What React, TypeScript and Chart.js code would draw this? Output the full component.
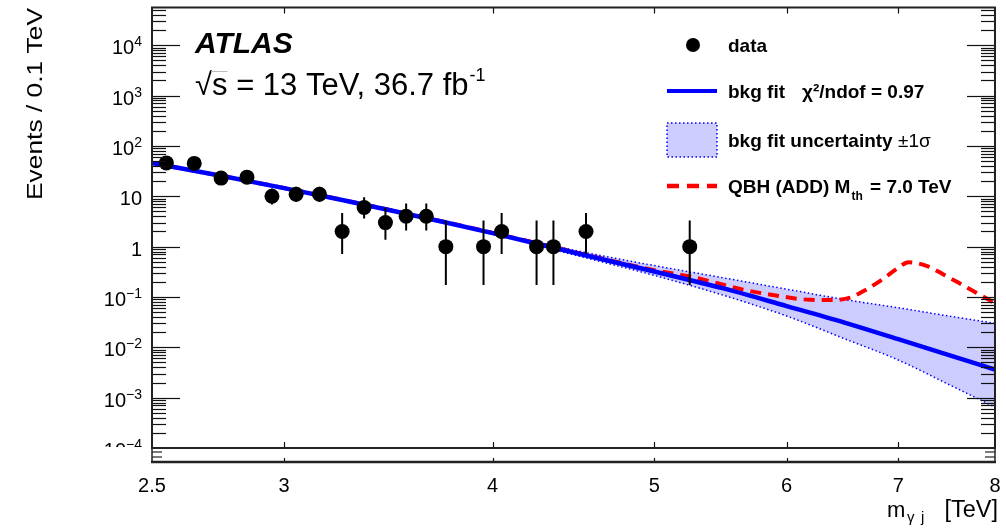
import React, { useEffect, useRef } from 'react';
import { Chart, registerables } from 'chart.js';

Chart.register(...registerables);

const W = 1006;
const H = 531;
const FONT = '"Liberation Sans", Arial, Helvetica, sans-serif';

// ---- data points (bin centres in TeV, events per 0.1 TeV) ----
const massBins = [2.55, 2.65, 2.75, 2.85, 2.95, 3.05, 3.15, 3.25, 3.35, 3.45, 3.55, 3.65, 3.75, 3.95, 4.05, 4.25, 4.35, 4.55, 5.25];
const dataCounts = [46, 45, 23, 24, 10, 11, 11, 2, 6, 3, 4, 4, 1, 1, 2, 1, 1, 2, 1];
const errLow = [39.2, 38.3, 18.2, 19.1, 6.9, 7.7, 7.7, 0.71, 3.62, 1.37, 2.09, 2.09, 0.173, 0.173, 0.71, 0.173, 0.173, 0.71, 0.173];
const errHigh = [53.8, 52.8, 28.9, 30.0, 14.3, 15.4, 15.4, 4.64, 9.58, 5.92, 7.16, 7.16, 3.3, 3.3, 4.64, 3.3, 3.3, 4.64, 3.3];

// ---- background fit ----
const fitMass = [2.5, 2.75, 3.0, 3.25, 3.5, 3.75, 4.0, 4.5, 5.0, 5.5, 6.0, 6.5, 7.0, 7.5, 8.0];
const fitValues = [45.7, 25.5, 14.5, 8.45, 5.0, 3.02, 1.85, 0.73, 0.32, 0.148, 0.066, 0.031, 0.0145, 0.0071, 0.0036];

// ---- fit uncertainty band ----
const bandMass = [3.5, 3.75, 4.0, 4.5, 5.0, 5.5, 6.0, 6.5, 7.0, 7.5, 8.0];
const bandUpper = [5.05, 3.06, 1.95, 0.82, 0.42, 0.24, 0.143, 0.089, 0.061, 0.042, 0.03];
const bandLower = [4.95, 2.98, 1.76, 0.655, 0.268, 0.108, 0.042, 0.0148, 0.0056, 0.00185, 0.00065];

// ---- QBH signal + background ----
const qbhMass = [2.5, 3.0, 3.5, 4.0, 4.5, 5.0, 5.25, 5.4, 5.65, 5.9, 6.2, 6.4, 6.55, 6.7, 6.85, 7.0, 7.1, 7.3, 7.45, 7.6, 7.8, 8.0];
const qbhValues = [46, 14.6, 5.05, 1.88, 0.75, 0.34, 0.255, 0.205, 0.14, 0.108, 0.088, 0.087, 0.097, 0.141, 0.225, 0.38, 0.49, 0.4, 0.28, 0.195, 0.12, 0.075];

// ---- axes ----
const yMajorTicks = [1e-4, 1e-3, 1e-2, 1e-1, 1, 10, 1e2, 1e3, 1e4];
const yTickBase = ['10', '10', '10', '10', '1', '10', '10', '10', '10'];
const yTickExp = ['\u22124', '\u22123', '\u22122', '\u22121', '', '', '2', '3', '4'];
const xTicks = [2.5, 3, 4, 5, 6, 7, 8];
const xTickLabels = ['2.5', '3', '4', '5', '6', '7', '8'];
const xMin = 2.5;
const xMax = 8;
const yMin = 1e-4;
const yMax = 56234;

const legendLabels = ['data', 'bkg fit', 'bkg fit uncertainty', 'QBH (ADD) M'];

const toXY = (xs: number[], ys: number[]) => xs.map((x, i) => ({ x, y: ys[i] }));

const DATA_INDEX = 0;

const rootPlugin = {
  id: 'rootStyle',
  afterDatasetDraw(chart: any, args: any) {
    if (args.index !== DATA_INDEX) return;
    const { ctx, chartArea } = chart;
    const xs = chart.scales.x;
    const ys = chart.scales.y;
    ctx.save();
    ctx.beginPath();
    ctx.rect(chartArea.left, chartArea.top, chartArea.right - chartArea.left, chartArea.bottom - chartArea.top);
    ctx.clip();
    ctx.strokeStyle = '#000';
    ctx.lineWidth = 2;
    massBins.forEach((m, i) => {
      const px = xs.getPixelForValue(m);
      ctx.beginPath();
      ctx.moveTo(px, ys.getPixelForValue(errLow[i]));
      ctx.lineTo(px, ys.getPixelForValue(errHigh[i]));
      ctx.stroke();
    });
    ctx.restore();
  },
  afterDraw(chart: any) {
    const { ctx, chartArea } = chart;
    const xs = chart.scales.x;
    const ys = chart.scales.y;
    const L = chartArea.left;
    const R = chartArea.right;
    const T = chartArea.top;
    const B = chartArea.bottom;
    const stripBottom = B + 14;

    ctx.save();
    const line = (x1: number, y1: number, x2: number, y2: number) => {
      ctx.beginPath();
      ctx.moveTo(x1, y1);
      ctx.lineTo(x2, y2);
      ctx.stroke();
    };
    // ---------- ticks on y (both sides) ----------
    ctx.strokeStyle = '#111';
    ctx.lineWidth = 1.2;
    for (let e = -4; e <= 4; e++) {
      for (let k = 1; k <= 9; k++) {
        const v = k * Math.pow(10, e);
        if (v < yMin || v > yMax) continue;
        const py = Math.round(ys.getPixelForValue(v)) + 0.5;
        const len = k === 1 ? 28 : 14;
        if (py > B - 0.5 || py < T + 0.5) continue;
        line(L, py, L + len, py);
        line(R, py, R - len, py);
      }
    }
    // ---------- ticks on x (top & bottom) ----------
    xTicks.forEach((t) => {
      if (t <= xMin || t >= xMax) return;
      const px = Math.round(xs.getPixelForValue(t)) + 0.5;
      line(px, B, px, B - 6);
      line(px, T, px, T + 6);
      line(px, stripBottom, px, stripBottom - 4);
    });

    // ---------- frame ----------
    ctx.strokeStyle = '#222';
    ctx.lineWidth = 2;
    ctx.strokeRect(L, T, R - L, B - T);
    // lower (ratio) strip
    ctx.lineWidth = 1.5;
    line(L, B, L, stripBottom);
    line(R, B, R, stripBottom);
    ctx.lineWidth = 2.5;
    line(L - 1, stripBottom, R + 1, stripBottom);
    ctx.lineWidth = 1.2;
    [B + 4, B + 9].forEach((yy) => {
      line(L, yy, L + 10, yy);
      line(R, yy, R - 10, yy);
    });

    // ---------- y tick labels ----------
    ctx.save();
    ctx.beginPath();
    ctx.rect(0, 0, W, B - 1);
    ctx.clip();
    ctx.fillStyle = '#000';
    ctx.textBaseline = 'alphabetic';
    ctx.textAlign = 'right';
    yMajorTicks.forEach((v, i) => {
      const py = ys.getPixelForValue(v);
      const labelRight = 142;
      ctx.font = `14px ${FONT}`;
      const expW = yTickExp[i] ? ctx.measureText(yTickExp[i]).width : 0;
      if (yTickExp[i]) ctx.fillText(yTickExp[i], labelRight, py + 1);
      ctx.font = `20px ${FONT}`;
      ctx.fillText(yTickBase[i], labelRight - expW, py + 9);
    });
    ctx.restore();

    // ---------- x tick labels ----------
    ctx.fillStyle = '#000';
    ctx.font = `20px ${FONT}`;
    ctx.textAlign = 'center';
    ctx.textBaseline = 'alphabetic';
    xTicks.forEach((t, i) => {
      const px = xs.getPixelForValue(t);
      ctx.fillText(xTickLabels[i], px, 492);
    });

    // ---------- axis titles ----------
    // x title: m_{γ j} [TeV]
    ctx.textAlign = 'left';
    ctx.font = `22px ${FONT}`;
    ctx.fillText('m', 887, 517);
    ctx.font = `15px ${FONT}`;
    ctx.fillText('\u03b3', 907, 522);
    ctx.fillText('j', 921, 522);
    ctx.font = `23.5px ${FONT}`;
    ctx.textAlign = 'right';
    ctx.fillText('[TeV]', 998, 517);
    ctx.textAlign = 'left';

    // y title (rotated, right-aligned at the top)
    ctx.save();
    ctx.font = `22px ${FONT}`;
    const yTitle = 'Events / 0.1 TeV';
    const wy = ctx.measureText(yTitle).width;
    ctx.translate(42, 200);
    ctx.rotate(-Math.PI / 2);
    ctx.scale(192 / wy, 1);
    ctx.textAlign = 'left';
    ctx.fillText(yTitle, 0, 0);
    ctx.restore();

    // ---------- ATLAS label ----------
    ctx.textAlign = 'left';
    ctx.font = `italic bold 30px ${FONT}`;
    ctx.fillText('ATLAS', 195, 53);
    ctx.font = `31px ${FONT}`;
    const energy = '\u221as = 13 TeV, 36.7 fb';
    ctx.fillText(energy, 195, 95);
    const wRoot = ctx.measureText('\u221a').width;
    const wRootS = ctx.measureText('\u221as').width;
    const wEnergy = ctx.measureText(energy).width;
    ctx.font = `18px ${FONT}`;
    ctx.fillText('-1', 195 + wEnergy + 1, 81);
    ctx.strokeStyle = '#bbb';
    ctx.lineWidth = 1;
    line(195 + wRoot - 1, 71.5, 195 + wRootS, 71.5);

    // ---------- legend ----------
    const lx0 = 667;
    const lx1 = 717;
    const tx = 728;
    const rows = [45, 91, 140, 186];
    ctx.fillStyle = '#000';
    ctx.beginPath();
    ctx.arc(693, rows[0], 7, 0, Math.PI * 2);
    ctx.fill();
    ctx.strokeStyle = 'rgb(0,0,255)';
    ctx.lineWidth = 4;
    line(lx0, rows[1], lx1, rows[1]);
    ctx.fillStyle = 'rgba(0,0,255,0.2)';
    ctx.fillRect(lx0, rows[2] - 17, lx1 - lx0, 34);
    ctx.strokeStyle = 'rgb(0,0,255)';
    ctx.lineWidth = 1.5;
    ctx.setLineDash([1.5, 2.5]);
    ctx.strokeRect(lx0, rows[2] - 17, lx1 - lx0, 34);
    ctx.strokeStyle = 'rgb(255,0,0)';
    ctx.lineWidth = 4.5;
    ctx.setLineDash([12, 8]);
    line(lx0, rows[3], lx1, rows[3]);
    ctx.setLineDash([]);

    ctx.fillStyle = '#000';
    ctx.textAlign = 'left';
    ctx.font = `bold 19px ${FONT}`;
    ctx.fillText(legendLabels[0], tx, rows[0] + 7);
    ctx.fillText(legendLabels[1], tx, rows[1] + 7);
    ctx.fillText('\u03c7\u00b2/ndof = 0.97', 802, rows[1] + 7);
    ctx.fillText(legendLabels[2], tx, rows[2] + 7);
    ctx.font = `19px ${FONT}`;
    ctx.fillText('\u00b11\u03c3', 898, rows[2] + 7);
    ctx.font = `bold 19px ${FONT}`;
    ctx.fillText(legendLabels[3], tx, rows[3] + 7);
    const wQ = ctx.measureText(legendLabels[3]).width;
    ctx.font = `bold 12px ${FONT}`;
    ctx.fillText('th', tx + wQ + 1, rows[3] + 14);
    const wTh = ctx.measureText('th').width;
    ctx.font = `bold 19px ${FONT}`;
    ctx.fillText(' = 7.0 TeV', tx + wQ + wTh + 3, rows[3] + 7);

    ctx.restore();
  },
};

export default function App() {
  const ref = useRef<HTMLCanvasElement>(null);
  useEffect(() => {
    document.body.style.margin = '0';
    const canvas = ref.current;
    if (!canvas) return;
    const chart = new Chart(canvas, {
      type: 'line',
      data: {
        datasets: [
          {
            label: 'data',
            data: toXY(massBins, dataCounts),
            showLine: false,
            pointRadius: 7.5,
            pointBackgroundColor: '#000',
            pointBorderColor: '#000',
            pointBorderWidth: 0,
            order: 0,
          },
          {
            label: 'bkg fit',
            data: toXY(fitMass, fitValues),
            borderColor: 'rgb(0,0,255)',
            borderWidth: 4.5,
            pointRadius: 0,
            cubicInterpolationMode: 'monotone',
            fill: false,
            order: 1,
          },
          {
            label: 'QBH',
            data: toXY(qbhMass, qbhValues),
            borderColor: 'rgb(255,0,0)',
            borderWidth: 4,
            borderDash: [11, 7],
            pointRadius: 0,
            cubicInterpolationMode: 'monotone',
            fill: false,
            order: 2,
          },
          {
            label: 'band up',
            data: toXY(bandMass, bandUpper),
            borderColor: 'rgb(0,0,255)',
            borderWidth: 1.5,
            borderDash: [1.5, 2.5],
            pointRadius: 0,
            cubicInterpolationMode: 'monotone',
            fill: false,
            order: 3,
          },
          {
            label: 'band down',
            data: toXY(bandMass, bandLower),
            borderColor: 'rgb(0,0,255)',
            backgroundColor: 'rgba(0,0,255,0.2)',
            borderWidth: 1.5,
            borderDash: [1.5, 2.5],
            pointRadius: 0,
            cubicInterpolationMode: 'monotone',
            fill: '-1',
            order: 4,
          },
        ],
      },
      options: {
        responsive: false,
        animation: false,
        devicePixelRatio: 1,
        events: [],
        layout: { padding: { left: 152, top: 7, right: 11, bottom: 83 } },
        plugins: { legend: { display: false }, tooltip: { enabled: false } },
        scales: {
          x: { type: 'logarithmic', min: xMin, max: xMax, display: false },
          y: { type: 'logarithmic', min: yMin, max: yMax, display: false },
        },
      },
      plugins: [rootPlugin],
    } as any);
    return () => chart.destroy();
  }, []);
  return <canvas ref={ref} width={W} height={H} style={{ display: 'block' }} />;
}
